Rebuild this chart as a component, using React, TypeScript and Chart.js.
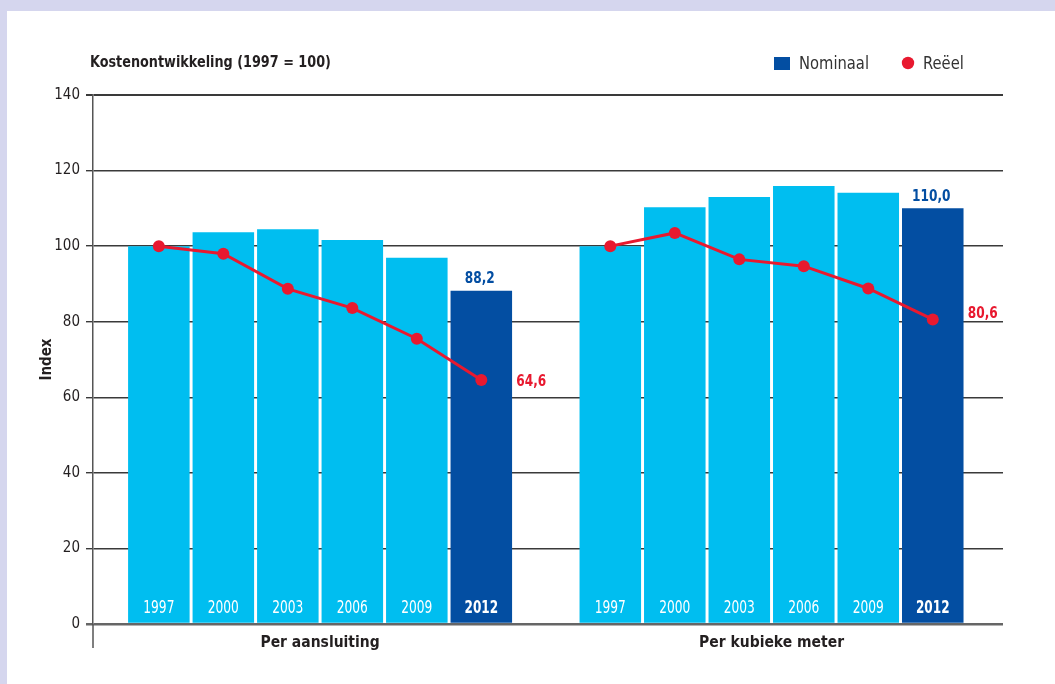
import React, { useEffect, useRef } from 'react';
import { Chart, registerables } from 'chart.js';

Chart.register(...registerables);

const years = ['1997', '2000', '2003', '2006', '2009', '2012'];
const groups = ['Per aansluiting', 'Per kubieke meter'];
const nominaalAansluiting = [100, 103.7, 104.5, 101.6, 96.9, 88.2];
const reeelAansluiting = [100, 98.0, 88.7, 83.6, 75.5, 64.6];
const nominaalKubiek = [100, 110.3, 113.0, 115.9, 114.1, 110.0];
const reeelKubiek = [100, 103.5, 96.5, 94.7, 88.8, 80.6];
const yTicks = [0, 20, 40, 60, 80, 100, 120, 140];
const chartTitle = 'Kostenontwikkeling (1997 = 100)';
const yTitle = 'Index';
const legendLabels = ['Nominaal', 'Reëel'];

const FONT = "'Liberation Sans Narrow', 'Arial Narrow', 'DejaVu Sans Condensed', 'Liberation Sans', sans-serif";
const LIGHT = '#00BEF0';
const DARK = '#034EA2';
const RED = '#E8192F';
const TEXT = '#231F20';
const LAVENDER = '#D5D6EE';

const fmt = (v: number) => v.toFixed(1).replace('.', ',');

function drawText(ctx: any, text: string, x: number, y: number, font: string, color: string, align: string, sx: number) {
  ctx.save();
  ctx.font = font;
  ctx.fillStyle = color;
  ctx.textAlign = align;
  ctx.textBaseline = 'alphabetic';
  ctx.translate(x, y);
  ctx.scale(sx, 1);
  ctx.fillText(text, 0, 0);
  ctx.restore();
}

const decor = {
  id: 'decor',
  afterDatasetsDraw(chart: any) {
    const ctx = chart.ctx;
    const area = chart.chartArea;
    const barMeta = chart.getDatasetMeta(0);
    const lineMeta = chart.getDatasetMeta(1);
    // year labels inside bars
    barMeta.data.forEach((el: any, i: number) => {
      const yi = i % years.length;
      const last = yi === years.length - 1;
      drawText(ctx, years[yi], el.x, area.bottom - 11, `${last ? 'bold ' : ''}17px ${FONT}`, '#ffffff', 'center', last ? 0.79 : 0.8);
    });
    // value labels
    const groupsVals = [
      { bar: nominaalAansluiting, line: reeelAansluiting, barIdx: 5, lineIdx: 5, dy: 6.5 },
      { bar: nominaalKubiek, line: reeelKubiek, barIdx: 11, lineIdx: 12, dy: -1 },
    ];
    groupsVals.forEach((g) => {
      const b = barMeta.data[g.barIdx];
      drawText(ctx, fmt(g.bar[g.bar.length - 1]), b.x - 1.5, b.y - 7.5, `bold 15px ${FONT}`, DARK, 'center', 0.9);
      const p = lineMeta.data[g.lineIdx];
      drawText(ctx, fmt(g.line[g.line.length - 1]), p.x + 35, p.y + g.dy, `bold 15px ${FONT}`, RED, 'left', 0.9);
    });
  },
  afterDraw(chart: any) {
    const ctx = chart.ctx;
    const area = chart.chartArea;
    ctx.save();
    // y axis extension below zero line
    ctx.strokeStyle = '#555';
    ctx.lineWidth = 1.5;
    ctx.beginPath();
    ctx.moveTo(area.left, area.bottom);
    ctx.lineTo(area.left, area.bottom + 24);
    ctx.stroke();
    ctx.restore();
    // title
    drawText(ctx, chartTitle, area.left - 3, 67, `bold 16px ${FONT}`, TEXT, 'left', 0.89);
    // legend
    ctx.save();
    ctx.fillStyle = DARK;
    ctx.fillRect(774, 57, 16, 13);
    ctx.fillStyle = RED;
    ctx.beginPath();
    ctx.arc(908, 63, 6.2, 0, Math.PI * 2);
    ctx.fill();
    ctx.restore();
    drawText(ctx, legendLabels[0], 799, 69, `18px ${FONT}`, '#333333', 'left', 0.91);
    drawText(ctx, legendLabels[1], 923, 69, `18px ${FONT}`, '#333333', 'left', 0.91);
  },
};

export default function App() {
  const ref = useRef<HTMLCanvasElement | null>(null);

  useEffect(() => {
    if (!ref.current) return;
    const barData = [
      ...nominaalAansluiting.map((v, i) => ({ x: i, y: v })),
      ...nominaalKubiek.map((v, i) => ({ x: years.length + 1 + i, y: v })),
    ];
    const lineData: any[] = [
      ...reeelAansluiting.map((v, i) => ({ x: i, y: v })),
      { x: years.length, y: null },
      ...reeelKubiek.map((v, i) => ({ x: years.length + 1 + i, y: v })),
    ];
    const barColors = barData.map((_, i) => (i % years.length === years.length - 1 ? DARK : LIGHT));

    const chart = new Chart(ref.current, {
      type: 'bar',
      data: {
        datasets: [
          {
            type: 'bar',
            label: legendLabels[0],
            data: barData as any,
            backgroundColor: barColors,
            borderWidth: 0,
            barPercentage: 0.954,
            categoryPercentage: 1,
            order: 2,
          },
          {
            type: 'line',
            label: legendLabels[1],
            data: lineData,
            borderColor: RED,
            backgroundColor: RED,
            borderWidth: 3,
            pointRadius: 6,
            pointBorderWidth: 0,
            pointBackgroundColor: RED,
            tension: 0,
            spanGaps: false,
            order: 1,
          } as any,
        ],
      },
      options: {
        responsive: false,
        animation: false,
        devicePixelRatio: 1,
        layout: { padding: { left: 0, right: 52, top: 95, bottom: 0 } },
        plugins: {
          legend: { display: false },
          title: { display: false },
          tooltip: { enabled: false },
        },
        scales: {
          x: {
            type: 'linear',
            min: -1.021,
            max: 13.089,
            offset: false,
            afterBuildTicks: (s: any) => {
              s.ticks = [{ value: 2.5 }, { value: 9.5 }];
            },
            afterFit: (s: any) => {
              s.height = 60;
            },
            grid: { display: false, drawTicks: false },
            border: { display: false },
            ticks: {
              callback: (v: any) => (Number(v) < years.length ? groups[0] : groups[1]),
              font: { family: FONT, size: 15.5, weight: 'bold' },
              color: TEXT,
              padding: 10,
              maxRotation: 0,
              autoSkip: false,
            },
          },
          y: {
            min: 0,
            max: 140,
            afterBuildTicks: (s: any) => {
              s.ticks = yTicks.map((v) => ({ value: v }));
            },
            afterFit: (s: any) => {
              s.width = 93;
            },
            grid: {
              color: (c: any) => (c.tick && c.tick.value === 0 ? '#666' : '#3a3a3a'),
              lineWidth: (c: any) => (c.tick && c.tick.value === 0 ? 2.5 : c.tick && c.tick.value === 140 ? 2 : 1.4),
              tickLength: 7,
              drawTicks: true,
            },
            border: { display: true, color: '#555', width: 1.5 },
            ticks: {
              font: { family: FONT, size: 15 },
              color: TEXT,
              padding: 6,
            },
            title: {
              display: true,
              text: yTitle,
              font: { family: FONT, size: 15, weight: 'bold' },
              color: TEXT,
              padding: { top: 38, bottom: 0 },
            },
          },
        },
      } as any,
      plugins: [decor],
    });
    return () => chart.destroy();
  }, []);

  return (
    <div style={{ position: 'fixed', left: 0, top: 0, width: 1055, height: 684, background: LAVENDER, overflow: 'hidden' }}>
      <div style={{ position: 'absolute', left: 7, top: 11, right: 0, bottom: 0, background: '#ffffff' }} />
      <canvas ref={ref} width={1055} height={684} style={{ position: 'absolute', left: 0, top: 0, width: 1055, height: 684 }} />
    </div>
  );
}
